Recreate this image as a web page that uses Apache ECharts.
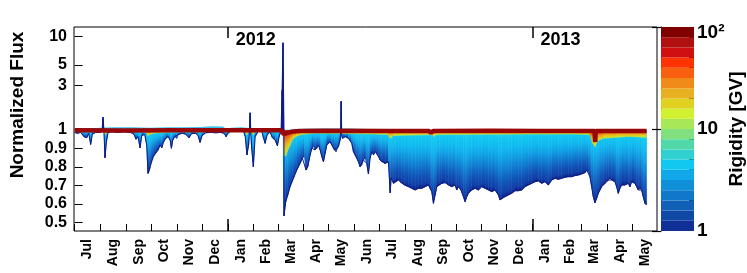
<!DOCTYPE html>
<html><head><meta charset="utf-8">
<script src="https://cdn.jsdelivr.net/npm/echarts@6/dist/echarts.min.js"></script>
<style>html,body{margin:0;padding:0;background:#fff}#c{width:747px;height:273px}</style>
</head><body><div id="c"></div>
<script>
// ---------------- DATA ----------------
const START = [2011, 6, 1]; // 1 Jul 2011 (day 0)
const monthLabels = ['Jul','Aug','Sep','Oct','Nov','Dec','Jan','Feb','Mar','Apr','May','Jun',
                     'Jul','Aug','Sep','Oct','Nov','Dec','Jan','Feb','Mar','Apr','May'];
const yearLabels = ['2012', '2013'];
const fluxTicksLow = [0.5, 0.6, 0.7, 0.8, 0.9, 1];
const fluxTicksHigh = [3, 5, 10];
const rigidityEdges = [1,1.259,1.585,1.995,2.512,3.162,3.981,5.012,6.310,7.943,10,
                       12.59,15.85,19.95,25.12,31.62,39.81,50.12,63.10,79.43,100];
const rigidityMajor = [1, 10, 100];
const rigidityMinor = [2,3,4,5,6,7,8,9,20,30,40,50,60,70,80,90];
// [day since 1 Jul 2011, normalized flux] at the lowest rigidity (~1 GV)
const fluxLowRigidity = [
[0,0.987],[3.3,0.982],[7.3,0.987],[11.3,0.964],[14.5,0.958],[17,0.982],[19.3,0.922],[21.3,0.977],[25.3,0.987],[30.5,0.987],[33,0.991],[34.1,1.37],[35.3,0.99],[36.5,0.85],[38.2,0.937],[40.2,0.987],[45.4,0.991],[51.4,0.987],[59.4,0.991],[67.4,0.987],[71.4,0.977],[73.8,0.95],[76.2,0.964],[78.6,0.904],[80.6,0.969],[84.2,0.977],[86.6,0.919],[88.2,0.765],[89.8,0.783],[92.2,0.825],[94.6,0.856],[97.4,0.874],[100.3,0.892],[102.7,0.919],[104.7,0.904],[106.7,0.933],[109.5,0.955],[112.3,0.964],[114.7,0.946],[116.3,0.901],[117.9,0.946],[120.3,0.964],[122.7,0.955],[125.1,0.977],[129.5,0.982],[133.5,0.977],[137.5,0.958],[140.3,0.98],[145.5,0.982],[148.3,0.969],[150.7,0.933],[153.1,0.969],[157.5,0.985],[163.5,0.987],[169.5,0.985],[175.5,0.987],[179.6,0.982],[182,0.964],
[184,0.982],[189,0.998],[197,0.998],[203,0.993],[205,0.964],[207,0.865],[209,0.919],[210,0.99],[210.8,1.53],[211.6,0.98],[212.7,0.901],[214.7,0.801],[216.8,0.964],[220.8,0.995],[224.8,0.995],[226.8,0.958],[228.8,0.928],[231.2,0.973],[234.8,0.989],[237.6,0.958],[240.8,0.946],[243.6,0.915],[245.6,0.964],[248,0.995],[249.2,2.68],[250.3,8.6],[251.5,0.535],[253.6,0.612],[256,0.648],[258.8,0.693],[262.8,0.738],[266.8,0.783],[270.8,0.819],[273.6,0.847],[276,0.856],[278,0.783],[280,0.801],[282.9,0.865],[284.9,0.901],[286.9,0.91],[288.9,0.892],[290.9,0.901],[292.9,0.919],[294.9,0.892],[296.9,0.856],[298.9,0.828],[300.9,0.874],[302.9,0.919],[306.9,0.937],[308.9,0.919],[312.1,0.892],[314.1,0.883],[316.9,0.91],[318.9,0.946],[319.6,0.99],[320.1,2.03],[320.8,0.97],[321.7,0.955],[324.9,0.964],[328.9,0.955],[332.9,0.928],[334.9,0.883],[336.9,0.865],[338.9,0.847],[340.9,0.828],[342.9,0.801],[344.9,0.81],[346.9,0.837],[348.9,0.847],[350.9,0.819],[352.9,0.762],[354.9,0.847],[356.9,0.883],[359,0.865],[361,0.883],[363,0.874],[365,0.856],[367,0.837],[369,0.828],[373,0.819],[377,0.828],[379,0.66],[380.2,0.738],[381.8,0.729],[383,0.711],[385.8,0.72],[389,0.729],[392.2,0.715],[396.3,0.702],[401,0.693],[405,0.684],[409,0.675],[413,0.684],[417,0.684],[421,0.693],[425,0.702],[427,0.684],[429,0.666],[431,0.603],[433,0.648],[435,0.693],[438,0.702],[441,0.711],[445,0.715],[449,0.702],[453,0.693],[457,0.702],[459,0.675],[461,0.693],[464,0.675],[467,0.639],[469,0.612],[471,0.639],[473,0.657],[477,0.675],[481,0.684],[485,0.675],[489,0.693],[493,0.684],[497,0.675],[501,0.666],[505,0.675],[509,0.648],[511,0.621],[513,0.63],[517,0.639],[521,0.648],[525,0.657],[529,0.671],[533,0.671],[537,0.675],[541,0.693],[545,0.702],[549,0.711],[553,0.72],[557,0.724],[561,0.711],[565,0.72],[569,0.702],[573,0.729],[577,0.738],[581,0.733],[585,0.738],[589,0.744],[593,0.747],[597,0.747],[601,0.753],[605,0.756],[609,0.762],[613,0.769],[615,0.783],[617,0.774],[619,0.747],[621,0.693],[623,0.639],[625,0.606],[627,0.63],[629,0.657],[631,0.675],[633,0.693],[635,0.702],[637,0.711],[639,0.72],[641,0.729],[643,0.738],[645,0.729],[649,0.72],[651,0.693],[653,0.657],[655,0.684],[657,0.702],[661,0.702],[665,0.711],[667,0.693],[669,0.72],[673,0.711],[675,0.693],[677,0.675],[679,0.684],[681,0.675],[683,0.639],[685,0.603],[687,0.594]
];
// ~10 GV (green/yellow boundary of the colour scale)
const fluxMidRigidity = [[0,0.99],[30,0.99],[36.5,0.975],[40,0.99],[86,0.99],[88.2,0.97],[92,0.98],[100,0.985],[120,0.99],[205,0.99],[207,0.975],[209,0.99],[213,0.99],[214.7,0.975],[217,0.99],[248,0.995],[251.5,0.86],[253.6,0.86],[256,0.89],[259,0.92],[262,0.95],[266,0.965],[272,0.975],[285,0.982],[300,0.982],[340,0.98],[360,0.978],[377,0.975],[379,0.955],[383,0.97],[430,0.975],[432,0.965],[434,0.975],[540,0.978],[600,0.978],[619,0.975],[622,0.93],[625,0.91],[628,0.94],[635,0.955],[650,0.96],[665,0.965],[687,0.96]];
// upper envelope (mid rigidities slightly above 1)
const fluxUpperEnvelope = [[0,1.02],[10,1.04],[25,1.05],[45,1.07],[70,1.07],[90,1.06],[110,1.07],[130,1.07],[150,1.08],[165,1.1],[178,1.09],[182,1.03],[188,1.06],[200,1.07],[210,1.05],[225,1.05],[245,1.04],[249,1.0],[262,1.0],[275,1.03],[300,1.04],[330,1.04],[360,1.02],[370,1.0],[687,1.0]];
// highest rigidity (~100 GV)
const fluxHighRigidity = [[0,0.998],[60,0.997],[120,0.998],[180,0.998],[248,0.998],[251,0.978],[254,0.982],[260,0.99],[270,0.995],[300,0.996],[378,0.995],[380,0.988],[382,0.995],[425,0.995],[428,0.985],[431,0.995],[500,0.996],[560,0.995],[588,0.995],[589.5,0.985],[591,0.995],[624.5,0.994],[625.3,0.935],[626,0.994],[660,0.995],[687,0.995]];

// colour scale (bottom = 1 GV ... top = 100 GV)
const rigidityColors = ['#103098','#1048a8','#1060b8','#1078c8','#1090d8','#10a8e8','#10c8f0','#30d0d0','#50d8a8','#80e080',
                        '#a8e858','#d0f030','#e0d020','#e8b020','#f08a18','#f86010','#ff3300','#d01010','#b01010','#800000'];

// ---------------- HELPERS ----------------
const DAY_MS = 86400000;
const t0 = Date.UTC(START[0], START[1], START[2]);
const monthStarts = monthLabels.map((_, i) => (Date.UTC(START[0], START[1] + i, 1) - t0) / DAY_MS);
const monthEnd = (Date.UTC(START[0], START[1] + monthLabels.length, 1) - t0) / DAY_MS;
const monthMids = monthStarts.map((s, i) => (s + (i + 1 < monthStarts.length ? monthStarts[i + 1] : monthEnd)) / 2);
const yearStarts = yearLabels.map(y => (Date.UTC(+y, 0, 1) - t0) / DAY_MS);
const FONT = '"Liberation Sans", Arial, Helvetica, sans-serif';

const COLD = [
  {offset:0.00,color:'#0a1a80'},{offset:0.08,color:'#1040a8'},{offset:0.20,color:'#1050b4'},
  {offset:0.32,color:'#1068c4'},{offset:0.45,color:'#1084d4'},{offset:0.58,color:'#10a0e4'},
  {offset:0.72,color:'#10b8f0'},{offset:0.88,color:'#10c8f0'},{offset:1.00,color:'#40d4d8'}];
const WARM = [
  {offset:0.00,color:'#b8e848'},{offset:0.25,color:'#e0d020'},{offset:0.50,color:'#f0a018'},
  {offset:0.75,color:'#f85010'},{offset:1.00,color:'#c01010'}];

function vGrad(yBottom, yTop, stops) {
  return new echarts.graphic.LinearGradient(0, yBottom, 0, Math.min(yTop, yBottom - 0.5), stops, true);
}
function lowerSeg(params, api) {
  const i = params.dataIndex;
  if (i >= fluxLowRigidity.length - 1) return null;
  const p = fluxLowRigidity[i], q = fluxLowRigidity[i + 1];
  const v0 = Math.min(p[1], 1), v1 = Math.min(q[1], 1);
  if (v0 >= 1 && v1 >= 1) return null;
  const a = api.coord([p[0], v0]), b = api.coord([q[0], v1]);
  const bt = api.coord([q[0], 1]), at = api.coord([p[0], 1]);
  const g = vGrad(Math.max(a[1], b[1]), at[1], COLD);
  return {type:'polygon', shape:{points:[a, b, bt, at]}, style:{fill:g, stroke:g, lineWidth:0.6}};
}
function warmSeg(params, api) {
  const i = params.dataIndex;
  if (i >= fluxMidRigidity.length - 1) return null;
  const p = fluxMidRigidity[i], q = fluxMidRigidity[i + 1];
  const a = api.coord([p[0], Math.min(p[1], 1)]), b = api.coord([q[0], Math.min(q[1], 1)]);
  const bt = api.coord([q[0], 1]), at = api.coord([p[0], 1]);
  const env = fluxLowRigidity.map(r => api.coord([r[0], Math.min(r[1], 1)]));
  env.push(api.coord([fluxLowRigidity[fluxLowRigidity.length - 1][0], 1]), api.coord([fluxLowRigidity[0][0], 1]));
  const g = vGrad(Math.max(a[1], b[1]), at[1], WARM);
  return {type:'polygon', shape:{points:[a, b, bt, at]}, style:{fill:g, stroke:g, lineWidth:0.5},
          clipPath:{type:'polygon', shape:{points:env}}};
}
function upperSeg(params, api) {
  const i = params.dataIndex;
  if (i >= fluxLowRigidity.length - 1) return null;
  const p = fluxLowRigidity[i], q = fluxLowRigidity[i + 1];
  const v0 = Math.max(p[1], 1), v1 = Math.max(q[1], 1);
  if (v0 <= 1 && v1 <= 1) return null;
  const a = api.coord([p[0], v0]), b = api.coord([q[0], v1]);
  const bt = api.coord([q[0], 1]), at = api.coord([p[0], 1]);
  return {type:'polygon', shape:{points:[a, b, bt, at]}, style:{fill:'#0c1a88', stroke:'#0c1a88', lineWidth:1}};
}
function colorBand(params, api) {
  const lo = api.coord([0, api.value(1)]), hi = api.coord([1, api.value(2)]);
  return {type:'rect', shape:{x:lo[0], y:hi[1], width:hi[0]-lo[0], height:lo[1]-hi[1]},
          style:{fill: rigidityColors[params.dataIndex]}};
}

// ---------------- LAYOUT ----------------
const GL = 74, GW = 583, GT = 27, GM = 130, GB = 231;
const XMIN = -0.72, XMAX = 699.5;
const lab = {color:'#000', fontWeight:'bold', fontFamily:FONT};

const chart = echarts.init(document.getElementById('c'), null, {renderer:'canvas'});
chart.setOption({
  animation:false,
  textStyle:{fontFamily:FONT},
  grid:[
    {left:GL, top:GT, width:GW, height:GB-GT, show:true, borderColor:'#000', borderWidth:1, backgroundColor:'transparent'},
    {left:GL, top:GT, width:GW, height:GM-GT},
    {left:GL, top:GM, width:GW, height:GB-GM},
    {left:661, top:GT, width:33, height:GB-GT}
  ],
  xAxis:[
    {gridIndex:0, type:'value', min:XMIN, max:XMAX, position:'bottom', splitLine:{show:false},
     axisLine:{show:false},
     axisTick:{show:true, inside:true, length:7, customValues:monthStarts, lineStyle:{color:'#000', width:1}},
     axisLabel:Object.assign({customValues:monthMids, rotate:90, margin:8, fontSize:14,
       formatter:v => { const k = monthMids.findIndex(m => Math.abs(m - v) < 0.01); return k >= 0 ? monthLabels[k] : ''; }}, lab)},
    {gridIndex:1, type:'value', min:XMIN, max:XMAX, position:'top', splitLine:{show:false},
     axisLine:{show:false},
     axisTick:{show:true, inside:true, length:11, customValues:yearStarts, lineStyle:{color:'#000', width:1.5}},
     axisLabel:Object.assign({customValues:yearStarts, inside:true, margin:4, fontSize:18, align:'left', padding:[0,0,0,8],
       formatter:v => { const k = yearStarts.findIndex(m => Math.abs(m - v) < 0.01); return k >= 0 ? yearLabels[k] : ''; }}, lab)},
    {gridIndex:2, type:'value', min:XMIN, max:XMAX, position:'bottom', splitLine:{show:false},
     axisLine:{show:false},
     axisTick:{show:true, inside:true, length:12, customValues:yearStarts, lineStyle:{color:'#000', width:1.5}},
     axisLabel:{show:false}},
    {gridIndex:3, type:'value', min:0, max:1, show:false}
  ],
  yAxis:[
    {gridIndex:0, type:'value', min:0, max:1, show:false},
    {gridIndex:1, type:'log', min:1, max:12.7, position:'left', splitLine:{show:false},
     axisLine:{show:false}, minorTick:{show:false},
     axisTick:{show:true, inside:true, length:8, customValues:fluxTicksHigh, lineStyle:{color:'#000'}},
     axisLabel:Object.assign({customValues:fluxTicksHigh, margin:7, fontSize:16, formatter:v => String(+(+v).toFixed(2))}, lab)},
    {gridIndex:2, type:'value', min:0.4529, max:1, position:'left', splitLine:{show:false},
     axisLine:{show:false},
     axisTick:{show:true, inside:true, length:8, customValues:fluxTicksLow.slice(0, 5), lineStyle:{color:'#000'}},
     axisLabel:Object.assign({customValues:fluxTicksLow, margin:7, fontSize:16, formatter:v => String(+(+v).toFixed(2))}, lab)},
    {gridIndex:3, type:'log', min:1, max:100, position:'right', splitLine:{show:false},
     axisLine:{show:true, lineStyle:{color:'#000', width:1}}, minorTick:{show:false},
     axisTick:{show:true, inside:true, length:9, customValues:rigidityMajor, lineStyle:{color:'#000', width:1.2}},
     axisLabel:{customValues:rigidityMajor, margin:3, color:'#000', fontWeight:'bold', fontSize:19, fontFamily:FONT,
       formatter:v => (Math.abs(v - 100) < 0.01 ? '{t|10²}' : String(Math.round(v))),
       rich:{t:{fontSize:19, fontWeight:'bold', fontFamily:FONT, color:'#000', padding:[12,0,0,0]}}}},
    {gridIndex:3, type:'log', min:1, max:100, position:'right', splitLine:{show:false},
     axisLine:{show:false}, minorTick:{show:false},
     axisTick:{show:true, inside:true, length:5, customValues:rigidityMinor, lineStyle:{color:'#000', width:1}},
     axisLabel:{show:false}}
  ],
  graphic:[
    {type:'text', x:18, y:105, rotation:Math.PI/2,
     style:{text:'Normalized Flux', fontSize:19, fontWeight:'bold', fontFamily:FONT, fill:'#000', align:'center', verticalAlign:'middle'}},
    {type:'text', x:737, y:129, rotation:Math.PI/2,
     style:{text:'Rigidity [GV]', fontSize:19, fontWeight:'bold', fontFamily:FONT, fill:'#000', align:'center', verticalAlign:'middle'}}
  ],
  series:[
    {type:'line', xAxisIndex:1, yAxisIndex:1, data:fluxUpperEnvelope, symbol:'none', z:1, clip:true,
     lineStyle:{width:0}, areaStyle:{color:'#38c4ec', opacity:1, origin:'start'}},
    {type:'custom', xAxisIndex:2, yAxisIndex:2, data:fluxLowRigidity, renderItem:lowerSeg, z:2},
    {type:'custom', xAxisIndex:2, yAxisIndex:2, data:fluxMidRigidity, renderItem:warmSeg, z:2},
    {type:'custom', xAxisIndex:1, yAxisIndex:1, data:fluxLowRigidity, renderItem:upperSeg, z:2},
    {type:'line', xAxisIndex:2, yAxisIndex:2, data:fluxLowRigidity, symbol:'none', z:2, clip:true,
     lineStyle:{width:1, color:'#0c1a88'}},
    {type:'line', xAxisIndex:2, yAxisIndex:2, data:fluxHighRigidity, symbol:'none', z:3, clip:false,
     lineStyle:{width:4.5, color:'#980808'}},
    {type:'custom', xAxisIndex:3, yAxisIndex:3, encode:{x:0, y:[1,2]},
     data:rigidityColors.map((c, i) => [0.5, rigidityEdges[i], rigidityEdges[i + 1]]), renderItem:colorBand, z:1}
  ]
});
</script></body></html>
